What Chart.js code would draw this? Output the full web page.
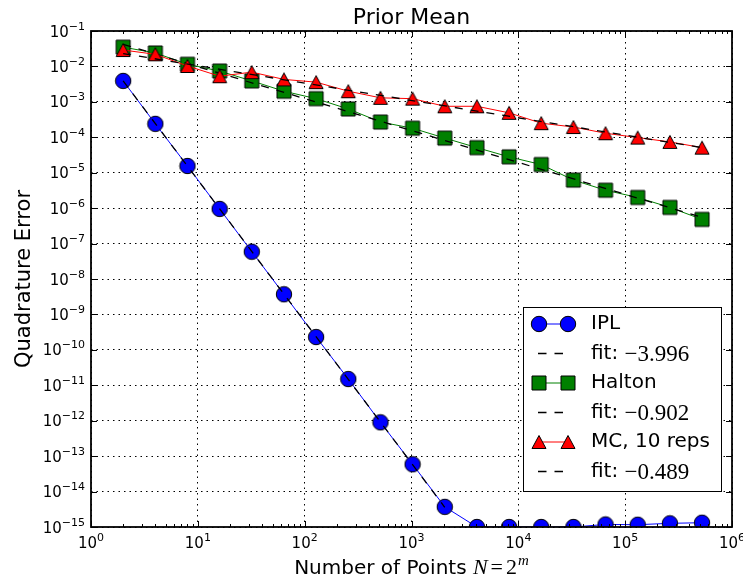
<!DOCTYPE html>
<html>
<head>
<meta charset="utf-8">
<script src="https://cdn.jsdelivr.net/npm/chart.js@4.4.0/dist/chart.umd.min.js"></script>
<style>
  html, body { margin: 0; padding: 0; background: #fff; }
</style>
</head>
<body>
<canvas id="errChart" width="743" height="584"></canvas>
<script>
// N = 2^m, m = 1..19
const pointsN = [2, 4, 8, 16, 32, 64, 128, 256, 512, 1024, 2048, 4096, 8192, 16384, 32768, 65536, 131072, 262144, 524288];
const iplError = [3.9e-3, 2.4e-4, 1.55e-5, 9.5e-7, 5.9e-8, 3.7e-9, 2.3e-10, 1.5e-11, 9.0e-13, 5.9e-14, 3.7e-15, 1.0e-15, 1.0e-15, 1.0e-15, 1.0e-15, 1.18e-15, 1.16e-15, 1.27e-15, 1.32e-15];
const haltonError = [3.5e-2, 2.4e-2, 1.15e-2, 7.4e-3, 3.9e-3, 2.0e-3, 1.23e-3, 6.3e-4, 2.7e-4, 1.8e-4, 9.5e-5, 5.1e-5, 2.8e-5, 1.7e-5, 6.2e-6, 3.2e-6, 2.0e-6, 1.05e-6, 4.8e-7];
const mcError = [2.9e-2, 2.2e-2, 1.03e-2, 5.3e-3, 6.9e-3, 4.3e-3, 3.6e-3, 2.0e-3, 1.3e-3, 1.23e-3, 7.5e-4, 7.5e-4, 4.9e-4, 2.5e-4, 1.95e-4, 1.3e-4, 9.8e-5, 7.4e-5, 5.1e-5];

// fitted power laws, end points
const iplFitN = [2, 2048];
const iplFit = [3.9e-3, 3.6e-15];
const haltonFitN = [2, 524288];
const haltonFit = [4.2e-2, 5.5e-7];
const mcFitN = [2, 524288];
const mcFit = [2.3e-2, 5.1e-5];
const fitSlopes = ['\u22123.996', '\u22120.902', '\u22120.489'];

const xTickValues = [1, 10, 100, 1e3, 1e4, 1e5, 1e6];
const yTickValues = [1e-15, 1e-14, 1e-13, 1e-12, 1e-11, 1e-10, 1e-9, 1e-8, 1e-7, 1e-6, 1e-5, 1e-4, 1e-3, 1e-2, 1e-1];

function expOf(v) {
    return String(Math.round(Math.log10(v))).replace('-', '\u2212');
}

function makeMarker(shape, fill) {
    const c = document.createElement('canvas');
    c.width = 18; c.height = 18;
    const g = c.getContext('2d');
    g.fillStyle = fill;
    g.strokeStyle = '#000';
    g.lineWidth = 1;
    g.beginPath();
    if (shape === 'circle') {
        g.arc(9, 9, 7.7, 0, Math.PI * 2);
    } else if (shape === 'square') {
        g.rect(2, 2, 14, 14);
    } else {
        g.moveTo(9, 2.5);
        g.lineTo(2, 15.5);
        g.lineTo(16, 15.5);
        g.closePath();
    }
    g.fill();
    g.stroke();
    return c;
}

const circleMark = makeMarker('circle', '#0000ff');
const squareMark = makeMarker('square', '#008000');
const triMark = makeMarker('triangle', '#ff0000');

function pairs(xs, ys) {
    return xs.map((x, i) => ({ x: x, y: ys[i] }));
}

function dataSet(label, ys, color, mark, order) {
    return {
        label: label,
        data: pairs(pointsN, ys),
        borderColor: color,
        borderWidth: 1,
        pointStyle: mark,
        pointRadius: 8,
        pointHoverRadius: 8,
        order: order
    };
}

function fitSet(xs, ys, order) {
    return {
        label: 'fit',
        data: pairs(xs, ys),
        borderColor: '#000',
        borderWidth: 1.3,
        borderDash: [8, 8],
        pointRadius: 0,
        order: order
    };
}

const legendRows = [
    { text: 'IPL', color: '#0000ff', mark: circleMark },
    { fit: fitSlopes[0] },
    { text: 'Halton', color: '#008000', mark: squareMark },
    { fit: fitSlopes[1] },
    { text: 'MC, 10 reps', color: '#ff0000', mark: triMark },
    { fit: fitSlopes[2] }
];

const decor = {
    id: 'decor',
    afterDraw(chart) {
        const ctx = chart.ctx;
        const a = chart.chartArea;
        const xs = chart.scales.x, ys = chart.scales.y;
        ctx.save();
        ctx.strokeStyle = '#000';
        ctx.fillStyle = '#000';
        ctx.setLineDash([]);

        // ticks on all four sides, pointing in
        ctx.lineWidth = 1;
        ctx.beginPath();
        for (let k = 0; k < 6; k++) {
            for (let j = 2; j <= 9; j++) {
                const px = Math.round(xs.getPixelForValue(j * Math.pow(10, k))) + 0.5;
                ctx.moveTo(px, a.bottom); ctx.lineTo(px, a.bottom - 3);
                ctx.moveTo(px, a.top); ctx.lineTo(px, a.top + 3);
            }
        }
        xTickValues.forEach(v => {
            const px = Math.round(xs.getPixelForValue(v)) + 0.5;
            ctx.moveTo(px, a.bottom); ctx.lineTo(px, a.bottom - 6);
            ctx.moveTo(px, a.top); ctx.lineTo(px, a.top + 6);
        });
        yTickValues.forEach(v => {
            const py = Math.round(ys.getPixelForValue(v)) + 0.5;
            ctx.moveTo(a.left, py); ctx.lineTo(a.left + 6, py);
            ctx.moveTo(a.right, py); ctx.lineTo(a.right - 6, py);
        });
        ctx.stroke();

        // frame
        ctx.lineWidth = 1.8;
        ctx.strokeRect(a.left, a.top, a.right - a.left, a.bottom - a.top);

        // tick labels: 10 with raised exponent
        const baseFont = '15px "DejaVu Sans"', expFont = '11px "DejaVu Sans"';
        ctx.textBaseline = 'alphabetic';
        ctx.textAlign = 'left';
        yTickValues.forEach(v => {
            const py = ys.getPixelForValue(v);
            const e = expOf(v);
            ctx.font = expFont;
            const we = ctx.measureText(e).width;
            ctx.font = baseFont;
            const wb = ctx.measureText('10').width;
            const right = a.left - 6;
            ctx.fillText('10', right - we - wb, py + 5.5);
            ctx.font = expFont;
            ctx.fillText(e, right - we, py - 1.5);
        });
        xTickValues.forEach(v => {
            const px = xs.getPixelForValue(v);
            const e = expOf(v);
            ctx.font = expFont;
            const we = ctx.measureText(e).width;
            ctx.font = baseFont;
            const wb = ctx.measureText('10').width;
            const left = px - (wb + we) / 2;
            ctx.fillText('10', left, a.bottom + 21);
            ctx.font = expFont;
            ctx.fillText(e, left + wb, a.bottom + 14);
        });

        // title
        const cx = (a.left + a.right) / 2;
        ctx.textAlign = 'center';
        ctx.font = '22px "DejaVu Sans"';
        ctx.fillText('Prior Mean', cx, 24);

        // y label
        ctx.save();
        ctx.translate(30, (a.top + a.bottom) / 2);
        ctx.rotate(-Math.PI / 2);
        ctx.font = '21px "DejaVu Sans"';
        ctx.fillText('Quadrature Error', 0, 0);
        ctx.restore();

        // x label with math part
        ctx.textAlign = 'left';
        const base = 574;
        const parts = [
            { t: 'Number of Points ', f: '20px "DejaVu Sans"', dy: 0, gap: 0 },
            { t: 'N', f: 'italic 22px "Liberation Serif"', dy: 0, gap: 3 },
            { t: '=', f: '22px "Liberation Serif"', dy: 0, gap: 3 },
            { t: '2', f: '22px "Liberation Serif"', dy: 0, gap: 1 },
            { t: 'm', f: 'italic 15px "Liberation Serif"', dy: -9, gap: 0 }
        ];
        let total = 0;
        parts.forEach(p => { ctx.font = p.f; p.w = ctx.measureText(p.t).width; total += p.w + p.gap; });
        let x = cx - total / 2;
        parts.forEach(p => { ctx.font = p.f; ctx.fillText(p.t, x, base + p.dy); x += p.w + p.gap; });

        // legend
        const lx = 523.5, ly = 307.5, lw = 198, lh = 184;
        ctx.fillStyle = '#fff';
        ctx.fillRect(lx, ly, lw, lh);
        ctx.lineWidth = 1;
        ctx.strokeStyle = '#000';
        ctx.strokeRect(lx, ly, lw, lh);
        legendRows.forEach((r, i) => {
            const y = 324 + i * 29.5;
            ctx.beginPath();
            if (r.fit) {
                ctx.setLineDash([8.5, 8]);
                ctx.strokeStyle = '#000';
                ctx.lineWidth = 1.3;
                ctx.moveTo(538, y); ctx.lineTo(568, y);
                ctx.stroke();
                ctx.setLineDash([]);
                ctx.fillStyle = '#000';
                ctx.font = '20px "DejaVu Sans"';
                ctx.textBaseline = 'middle';
                ctx.fillText('fit: ', 591, y);
                const w = ctx.measureText('fit: ').width;
                ctx.font = '23px "Liberation Serif"';
                ctx.fillText(r.fit, 591 + w, y + 1);
            } else {
                ctx.strokeStyle = r.color;
                ctx.lineWidth = 1;
                ctx.moveTo(539, y); ctx.lineTo(568, y);
                ctx.stroke();
                ctx.drawImage(r.mark, 539 - 9, y - 9);
                ctx.drawImage(r.mark, 568 - 9, y - 9);
                ctx.fillStyle = '#000';
                ctx.font = '20px "DejaVu Sans"';
                ctx.textBaseline = 'middle';
                ctx.fillText(r.text, 591, y);
            }
        });
        ctx.restore();
    }
};

new Chart(document.getElementById('errChart').getContext('2d'), {
    type: 'line',
    data: {
        datasets: [
            dataSet('IPL', iplError, '#0000ff', circleMark, 6),
            fitSet(iplFitN, iplFit, 5),
            dataSet('Halton', haltonError, '#008000', squareMark, 4),
            fitSet(haltonFitN, haltonFit, 3),
            dataSet('MC, 10 reps', mcError, '#ff0000', triMark, 2),
            fitSet(mcFitN, mcFit, 1)
        ]
    },
    options: {
        responsive: false,
        animation: false,
        devicePixelRatio: 1,
        layout: { padding: { top: 31, right: 11, bottom: 0, left: 0 } },
        plugins: {
            legend: { display: false },
            tooltip: { enabled: false },
            title: { display: false }
        },
        scales: {
            x: {
                type: 'logarithmic',
                min: 1,
                max: 1e6,
                afterBuildTicks: s => { s.ticks = xTickValues.map(v => ({ value: v })); },
                afterFit: s => { s.height = 57; s.paddingLeft = 0; s.paddingRight = 0; },
                ticks: { display: false, autoSkip: false },
                grid: { color: '#000', lineWidth: 1, drawTicks: false },
                border: { display: false, dash: [1.5, 4] }
            },
            y: {
                type: 'logarithmic',
                min: 1e-15,
                max: 1e-1,
                afterBuildTicks: s => { s.ticks = yTickValues.map(v => ({ value: v })); },
                afterFit: s => { s.width = 91; s.paddingTop = 0; s.paddingBottom = 0; },
                ticks: { display: false, autoSkip: false },
                grid: { color: '#000', lineWidth: 1, drawTicks: false },
                border: { display: false, dash: [1.5, 4] }
            }
        }
    },
    plugins: [decor]
});
</script>
</body>
</html>
